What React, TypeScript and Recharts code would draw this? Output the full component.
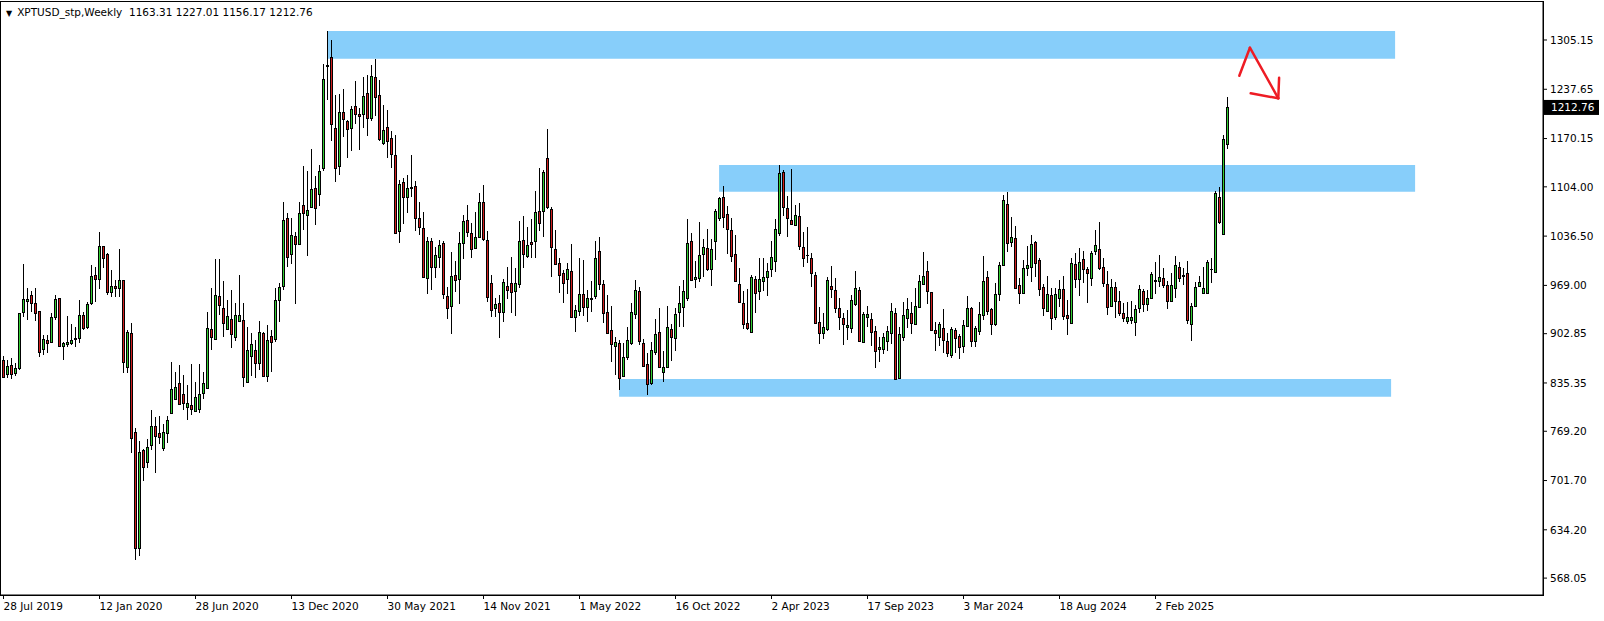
import React from 'react'
import { ComposedChart, Bar, XAxis, YAxis, ReferenceArea, ReferenceLine } from 'recharts'

const symbol = 'XPTUSD_stp,Weekly'

// weekly bars, oldest first (28 Jul 2019 .. 8 Jun 2025)
const opens = [
  866.8, 847.6, 859.5, 848.6, 855.4, 933.0, 948.1, 955.4, 944.4, 934.0,
  881.4, 894.2, 891.9, 925.3, 951.3, 886.5, 889.2, 890.6, 895.1, 896.5,
  928.5, 912.5, 945.4, 983.3, 977.3, 1023.0, 1011.6, 960.4, 968.2, 965.0,
  976.4, 857.7, 903.3, 768.6, 609.7, 743.5, 727.5, 750.4, 776.4, 766.8,
  746.7, 767.3, 794.7, 813.8, 834.8, 819.8, 802.9, 805.2, 797.4, 800.1,
  821.1, 828.0, 909.3, 895.1, 954.5, 937.6, 908.8, 923.0, 897.9, 920.2,
  921.6, 837.1, 872.8, 880.5, 863.2, 903.3, 845.3, 900.1, 895.6, 948.5,
  968.2, 1060.9, 1011.6, 1036.7, 1025.7, 1079.1, 1065.4, 1076.8, 1102.0, 1093.7,
  1130.3, 1270.0, 1281.4, 1184.2, 1133.0, 1206.1, 1194.2, 1184.2, 1214.7, 1203.3,
  1203.3, 1232.1, 1198.8, 1254.0, 1229.8, 1164.5, 1185.5, 1170.4, 1147.6, 1044.0,
  1110.2, 1090.5, 1102.4, 1105.2, 1060.9, 1047.2, 979.6, 1029.8, 994.6, 1008.4,
  1026.6, 954.5, 940.8, 983.3, 977.3, 1026.6, 1058.6, 1040.3, 1019.8, 1034.8,
  1083.7, 1031.2, 971.8, 937.6, 944.4, 932.1, 968.6, 971.8, 961.8, 970.5,
  1031.2, 1009.7, 1028.0, 1029.8, 1070.9, 1071.4, 1143.1, 1073.7, 1018.9, 999.2,
  985.6, 977.3, 988.7, 925.3, 933.5, 957.2, 939.9, 950.8, 955.0, 1016.1,
  970.5, 932.1, 907.4, 886.5, 889.7, 845.3, 871.4, 890.6, 929.4, 961.3,
  889.7, 860.9, 834.8, 877.3, 904.7, 850.8, 857.7, 908.8, 897.4, 933.0,
  939.0, 951.3, 1029.8, 978.2, 978.7, 1012.0, 1019.8, 991.0, 1030.3, 1060.9,
  1089.6, 1066.3, 1044.9, 1012.0, 970.5, 944.4, 917.0, 905.6, 977.3, 961.3,
  975.5, 980.0, 991.0, 1002.4, 1040.3, 1123.9, 1074.6, 1058.6, 1051.7, 1064.1,
  1021.1, 1011.1, 1006.1, 983.2, 918.4, 903.3, 909.3, 968.2, 962.7, 937.6,
  923.9, 911.5, 910.2, 943.1, 962.7, 891.9, 925.2, 922.5, 906.5, 881.4,
  881.4, 893.3, 903.3, 930.7, 841.7, 897.9, 923.9, 930.7, 915.6, 939.8,
  970.5, 988.7, 959.5, 907.9, 898.8, 910.2, 893.3, 873.7, 907.9, 899.7,
  886.0, 913.8, 938.5, 893.0, 907.0, 928.4, 980.0, 936.7, 915.7, 956.8,
  997.0, 1080.5, 1028.9, 1033.5, 969.1, 958.1, 993.3, 994.7, 1028.9, 1003.8,
  966.3, 933.9, 955.8, 925.2, 951.3, 964.1, 928.4, 917.0, 997.9, 977.3,
  1004.7, 991.0, 978.7, 1016.1, 1018.4, 993.7, 970.5, 940.8, 966.3, 948.1,
  931.6, 920.7, 922.0, 919.3, 938.5, 961.3, 943.5, 951.3, 975.0, 975.5,
  978.7, 969.5, 947.6, 965.9, 993.7, 982.8, 985.5, 915.7, 940.8, 968.2,
  958.1, 958.1, 991.0, 986.9, 1089.6, 1038.9, 1163.31,
]

const highs = [
  872.0, 866.8, 869.1, 862.3, 930.8, 998.3, 965.0, 961.8, 965.0, 934.0,
  901.1, 901.1, 930.8, 955.9, 951.3, 891.9, 927.1, 916.1, 912.5, 949.0,
  933.0, 946.7, 997.0, 994.7, 1041.7, 1023.0, 1012.9, 990.1, 976.4, 1018.9,
  976.4, 907.9, 917.0, 773.2, 755.8, 744.9, 758.6, 798.3, 789.2, 790.1,
  779.1, 790.1, 864.1, 850.8, 860.0, 846.2, 832.5, 860.9, 836.2, 861.3,
  850.8, 933.0, 965.9, 1004.7, 1004.7, 975.0, 949.0, 962.7, 944.4, 983.2,
  944.4, 912.5, 903.3, 894.2, 920.2, 905.6, 914.8, 907.9, 965.0, 971.8,
  1083.7, 1067.7, 1060.9, 1042.6, 1083.7, 1132.6, 1125.7, 1155.8, 1119.3, 1133.9,
  1272.3, 1317.5, 1305.2, 1229.8, 1230.7, 1237.6, 1195.6, 1214.7, 1249.0, 1212.5,
  1254.9, 1257.2, 1270.9, 1278.7, 1250.3, 1216.1, 1209.3, 1180.5, 1175.0, 1113.4,
  1115.7, 1120.2, 1147.6, 1112.0, 1082.8, 1069.1, 1034.8, 1033.5, 1022.0, 1031.2,
  1030.3, 966.4, 1015.2, 1002.9, 1042.6, 1065.4, 1079.1, 1054.0, 1069.1, 1095.1,
  1106.5, 1043.5, 983.3, 951.3, 955.9, 977.8, 994.7, 1008.4, 992.4, 1057.2,
  1064.1, 1049.5, 1060.0, 1098.8, 1129.4, 1127.1, 1183.2, 1075.9, 1044.9, 1006.1,
  990.1, 1000.1, 1025.7, 942.2, 1006.1, 1003.8, 962.7, 975.0, 1029.8, 1035.8,
  976.4, 955.9, 940.8, 898.8, 894.2, 889.7, 912.5, 944.4, 976.4, 967.3,
  895.6, 875.9, 891.0, 922.9, 937.6, 879.1, 940.8, 916.1, 937.6, 968.2,
  976.4, 1060.0, 1040.3, 1002.4, 1056.3, 1032.5, 1046.3, 1032.1, 1073.7, 1090.5,
  1105.1, 1077.8, 1060.9, 1038.0, 993.3, 961.3, 963.6, 983.2, 981.9, 1006.1,
  1006.1, 999.2, 1029.8, 1060.0, 1133.9, 1127.1, 1091.5, 1128.4, 1079.1, 1082.3,
  1042.6, 1048.5, 1012.9, 986.9, 939.9, 930.7, 981.0, 995.6, 978.7, 951.3,
  931.6, 935.3, 955.8, 988.7, 967.3, 933.0, 940.8, 930.7, 913.4, 898.8,
  904.2, 913.4, 945.3, 937.6, 911.5, 945.8, 951.3, 946.7, 965.0, 983.2,
  1014.7, 1002.9, 960.4, 919.3, 919.3, 936.2, 903.3, 912.5, 911.1, 902.4,
  921.6, 954.5, 939.9, 913.4, 945.8, 1009.3, 989.2, 938.5, 971.8, 1001.5,
  1092.8, 1097.4, 1063.1, 1050.4, 978.7, 1003.8, 1023.4, 1038.0, 1029.8, 1006.1,
  970.9, 981.9, 965.0, 965.0, 976.4, 981.9, 949.0, 1006.1, 1013.8, 1019.8,
  1016.6, 994.7, 1016.6, 1044.9, 1056.3, 1006.1, 988.7, 977.8, 974.1, 961.3,
  944.4, 945.8, 947.6, 942.2, 969.5, 964.1, 962.7, 986.9, 1001.5, 1010.6,
  992.4, 975.0, 985.5, 1009.7, 1001.5, 993.3, 1002.4, 944.4, 974.1, 981.9,
  994.7, 1003.8, 1007.0, 1098.3, 1104.2, 1175.0, 1227.01,
]

const lows = [
  841.7, 841.7, 840.3, 844.0, 852.2, 926.2, 921.6, 933.0, 919.3, 871.4,
  873.7, 876.0, 889.7, 921.6, 886.0, 866.8, 885.1, 887.4, 885.1, 889.7,
  907.9, 910.2, 942.2, 946.7, 964.1, 992.4, 955.9, 953.6, 953.6, 953.6,
  848.6, 848.5, 739.0, 593.0, 598.0, 701.0, 719.3, 743.5, 712.5, 751.7,
  742.1, 753.6, 793.7, 812.0, 806.1, 798.3, 784.6, 791.5, 796.0, 793.7,
  814.3, 827.1, 881.4, 894.2, 928.4, 897.9, 907.9, 883.7, 891.9, 919.3,
  829.3, 836.2, 844.0, 842.6, 853.1, 844.0, 837.1, 850.8, 891.0, 918.0,
  962.7, 993.3, 998.3, 944.4, 1024.3, 1044.9, 1009.7, 1075.9, 1051.7, 1077.8,
  1125.7, 1223.0, 1166.8, 1110.2, 1119.3, 1171.4, 1144.0, 1153.5, 1190.1, 1155.4,
  1185.1, 1174.1, 1194.6, 1201.0, 1167.3, 1161.3, 1143.1, 1129.4, 1039.4, 1026.6,
  1052.6, 1067.7, 1090.5, 1044.0, 1038.0, 980.0, 956.8, 961.8, 979.6, 992.4,
  951.3, 922.5, 903.3, 960.4, 944.4, 1004.7, 1034.8, 1006.1, 1018.4, 1033.5,
  1030.3, 946.7, 925.3, 925.3, 896.5, 918.4, 951.3, 932.1, 926.2, 965.0,
  993.3, 1007.0, 1007.0, 1007.0, 1042.6, 1034.8, 1073.2, 980.0, 997.0, 958.2,
  944.4, 957.2, 924.8, 904.7, 926.2, 927.6, 919.3, 933.0, 949.9, 962.7,
  917.0, 902.4, 864.5, 846.2, 825.7, 844.4, 866.8, 887.4, 922.5, 887.4,
  857.7, 818.9, 831.6, 873.7, 856.8, 836.2, 855.4, 865.9, 879.1, 911.5,
  912.5, 948.1, 975.5, 965.0, 974.1, 981.0, 989.2, 967.3, 1003.8, 1057.7,
  1048.1, 1012.0, 1000.1, 974.1, 945.3, 908.8, 907.9, 904.2, 930.7, 948.1,
  960.4, 953.6, 980.0, 987.8, 1037.1, 1064.5, 1035.8, 1051.7, 1050.4, 1017.5,
  994.7, 999.2, 966.3, 916.1, 889.7, 895.6, 907.0, 951.3, 930.7, 907.0,
  887.4, 894.2, 904.2, 940.8, 891.9, 891.5, 912.5, 885.1, 855.4, 864.5,
  875.0, 879.6, 889.6, 839.4, 840.8, 891.9, 910.2, 902.4, 913.8, 938.9,
  969.5, 944.4, 907.0, 879.1, 886.0, 876.0, 870.5, 870.5, 876.9, 867.7,
  876.0, 912.5, 885.0, 885.0, 901.0, 921.6, 928.4, 901.0, 913.4, 948.1,
  996.0, 1015.2, 1022.1, 963.6, 943.5, 956.8, 981.9, 974.1, 981.0, 954.5,
  927.1, 933.0, 907.0, 920.7, 939.9, 921.6, 901.0, 916.1, 965.9, 954.5,
  973.2, 945.8, 968.6, 1010.6, 991.0, 965.9, 928.4, 939.0, 924.8, 927.5,
  917.9, 915.7, 916.1, 900.1, 930.7, 932.1, 934.4, 950.4, 958.1, 967.3,
  965.0, 936.7, 946.7, 952.2, 974.1, 969.5, 915.7, 891.9, 939.9, 967.3,
  957.2, 957.2, 973.2, 986.0, 1054.0, 1038.0, 1156.17,
]

const closes = [
  844.0, 858.6, 847.6, 855.4, 930.8, 949.9, 950.4, 945.4, 930.8, 878.2,
  895.6, 889.7, 925.3, 949.9, 886.5, 889.7, 891.5, 894.2, 897.4, 928.5,
  910.2, 943.1, 981.9, 977.8, 1023.0, 1006.1, 960.4, 968.2, 965.0, 976.4,
  864.5, 905.6, 760.4, 609.7, 741.2, 720.7, 748.1, 776.4, 763.1, 761.8,
  767.7, 784.1, 826.6, 829.3, 807.0, 808.3, 807.4, 800.1, 816.1, 819.8,
  834.8, 910.2, 898.8, 955.8, 942.1, 917.0, 927.1, 902.4, 928.0, 928.0,
  844.0, 880.5, 888.3, 863.2, 905.1, 845.3, 894.2, 891.0, 949.0, 966.3,
  1058.6, 1008.4, 1038.0, 1025.7, 1067.7, 1067.7, 1072.3, 1101.1, 1075.5, 1125.7,
  1251.3, 1270.9, 1189.6, 1130.3, 1206.1, 1196.5, 1182.8, 1210.2, 1203.3, 1201.5,
  1228.4, 1198.8, 1255.8, 1227.5, 1169.5, 1181.9, 1167.3, 1148.5, 1040.3, 1107.4,
  1089.6, 1102.0, 1103.3, 1060.9, 1048.5, 980.9, 1029.8, 994.6, 1010.6, 1024.3,
  956.8, 938.5, 981.9, 976.4, 1027.5, 1057.2, 1042.2, 1018.4, 1035.8, 1083.7,
  1032.1, 952.6, 935.3, 943.1, 933.0, 973.2, 962.7, 959.5, 971.8, 1029.8,
  1011.6, 1023.9, 1026.2, 1069.1, 1054.0, 1123.9, 1075.9, 1022.1, 997.9, 983.3,
  971.8, 991.0, 926.2, 935.3, 957.2, 939.0, 952.2, 951.7, 1006.1, 970.5,
  930.7, 904.2, 888.3, 891.0, 842.6, 871.4, 893.7, 932.1, 962.7, 893.3,
  859.0, 833.5, 880.5, 901.9, 857.7, 856.8, 911.5, 897.9, 929.8, 944.4,
  961.3, 1026.6, 976.4, 980.5, 1010.2, 1022.1, 991.0, 1018.4, 1070.9, 1088.3,
  1063.1, 1045.8, 1009.7, 975.0, 946.7, 915.7, 910.2, 980.0, 959.0, 977.3,
  981.0, 989.2, 1007.4, 1045.8, 1122.5, 1075.9, 1060.9, 1053.1, 1065.4, 1023.4,
  1006.1, 1010.2, 985.5, 917.0, 904.2, 911.5, 976.4, 963.6, 937.6, 925.3,
  916.1, 914.7, 949.0, 965.0, 893.3, 929.8, 929.8, 905.6, 879.6, 884.6,
  897.9, 906.5, 933.9, 840.3, 902.0, 928.4, 936.2, 917.0, 940.8, 975.0,
  981.9, 961.8, 907.9, 903.3, 916.1, 894.2, 876.0, 908.8, 897.4, 885.1,
  914.7, 937.6, 893.0, 910.2, 929.8, 975.0, 934.4, 915.7, 956.8, 997.0,
  1086.0, 1026.6, 1035.8, 965.9, 959.0, 992.4, 997.0, 1025.2, 1000.1, 963.6,
  937.6, 956.8, 923.9, 956.8, 964.1, 927.5, 923.9, 999.2, 977.3, 1000.6,
  991.0, 985.5, 1012.9, 1023.9, 993.3, 971.8, 939.0, 966.3, 948.1, 931.6,
  923.9, 925.2, 925.2, 936.2, 963.6, 943.5, 951.3, 984.2, 975.9, 980.0,
  969.5, 947.6, 969.5, 996.9, 978.7, 981.9, 921.6, 940.8, 966.3, 973.2,
  965.0, 1000.6, 991.9, 1095.1, 1056.3, 1169.1, 1212.76,
]

const dateLabels = [
  '28 Jul 2019', '12 Jan 2020', '28 Jun 2020', '13 Dec 2020', '30 May 2021',
  '14 Nov 2021', '1 May 2022', '16 Oct 2022', '2 Apr 2023', '17 Sep 2023',
  '3 Mar 2024', '18 Aug 2024', '2 Feb 2025',
]
const dateTickBars = [0, 24, 48, 72, 96, 120, 144, 168, 192, 216, 240, 264, 288]

const priceTicks = [
  568.05, 634.2, 701.7, 769.2, 835.35, 902.85, 969.0, 1036.5, 1104.0, 1170.15, 1237.65, 1305.15,
]

// supply / demand zones: bar index span and price span
const zoneBars = [[80.95, 347.9], [178.9, 352.9], [153.9, 346.9]]
const zonePrices = [[1279.5, 1317.5], [1097.3, 1133.9], [816.5, 840.8]]

// hand drawn arrow, in (bar index, price)
const arrowStrokes = [
  [[308.95, 1256.2], [311.6, 1294.6]],
  [[311.6, 1294.6], [318.7, 1225.3]],
  [[311.8, 1232.1], [318.7, 1225.3]],
  [[318.9, 1253.5], [318.7, 1225.3]],
]

const candles = opens.map((o, i) => ({ i, o, h: highs[i], l: lows[i], c: closes[i] }))
const last = candles[candles.length - 1]

const UP = '#32cd32'
const DOWN = '#d01e1e'
const ZONE = '#87cefa'
const FONT = '"DejaVu Sans", Verdana, sans-serif'

function Candle(props: any) {
  const { x, y, width, height } = props
  const p = props.payload || props
  const { o, h, l, c } = p
  if (x == null || y == null) return null
  const cx = Math.floor(x + width / 2) + 0.5
  const span = h - l || 1
  const py = (v: number) => y + ((h - v) / span) * height
  const top = Math.round(py(Math.max(o, c)))
  const bot = Math.round(py(Math.min(o, c)))
  const bh = bot - top
  return (
    <g>
      <rect x={cx - 0.5} y={Math.round(y)} width={1} height={Math.max(1, Math.round(height))} fill="#000" />
      <rect x={cx - 1.5} y={top} width={3} height={bh + 1} fill="#000" />
      {bh >= 2 && <rect x={cx - 0.5} y={top + 1} width={1} height={bh - 1} fill={c >= o ? UP : DOWN} />}
    </g>
  )
}

function PriceTag(props: any) {
  const vb = props.viewBox || {}
  const right = vb.x + vb.width
  return (
    <g>
      <rect x={right + 1} y={vb.y - 7.5} width={55} height={15} fill="#000" />
      <text x={right + 8} y={vb.y} dy="0.36em" fill="#fff" fontSize={10.5} fontFamily={FONT}>
        {last.c.toFixed(2)}
      </text>
    </g>
  )
}

export default function App() {
  return (
    <div style={{ position: 'absolute', left: 0, top: 0, width: 1604, height: 621, background: '#fff', overflow: 'hidden' }}>
      <ComposedChart width={1604} height={621} data={candles} margin={{ top: 2, right: 0, bottom: 0, left: 1 }}>
        <XAxis
          dataKey="i"
          type="number"
          domain={[-0.625, 384.875]}
          allowDataOverflow
          ticks={dateTickBars}
          interval={0}
          height={26}
          tickFormatter={(v: number) => dateLabels[dateTickBars.indexOf(v)] ?? ''}
          tick={{ fontSize: 10.5, fill: '#000', fontFamily: FONT, textAnchor: 'start' }}
          tickLine={{ stroke: '#000' }}
          axisLine={{ stroke: '#000' }}
          tickSize={4}
          tickMargin={4}
        />
        <YAxis
          orientation="right"
          type="number"
          domain={[544.9, 1357.2]}
          allowDataOverflow
          ticks={priceTicks}
          interval={0}
          width={61}
          tickFormatter={(v: number) => v.toFixed(2)}
          tick={{ fontSize: 10.5, fill: '#000', fontFamily: FONT }}
          tickLine={{ stroke: '#000' }}
          axisLine={{ stroke: '#000' }}
          tickSize={4}
          tickMargin={3}
        />
        {zoneBars.map((b, k) => (
          <ReferenceArea
            key={k}
            x1={b[0]}
            x2={b[1]}
            y1={zonePrices[k][0]}
            y2={zonePrices[k][1]}
            fill={ZONE}
            fillOpacity={1}
            stroke="none"
          />
        ))}
        <Bar
          dataKey={(d: any) => [d.l, d.h]}
          barSize={3}
          shape={(p: any) => <Candle {...p} />}
          isAnimationActive={false}
        />
        {arrowStrokes.map((s, k) => (
          <ReferenceLine
            key={'a' + k}
            segment={[{ x: s[0][0], y: s[0][1] }, { x: s[1][0], y: s[1][1] }]}
            stroke="#ee1c24"
            strokeWidth={2.5}
            strokeLinecap="round"
            ifOverflow="visible"
          />
        ))}
        <ReferenceLine y={last.c} stroke="none" strokeOpacity={0} label={<PriceTag />} />
      </ComposedChart>
      <div
        style={{
          position: 'absolute', left: 0, top: 1, width: 1544, height: 595, boxSizing: 'border-box',
          border: '1px solid #000', pointerEvents: 'none',
        }}
      />
      <div
        style={{
          position: 'absolute', left: 6, top: 5, fontFamily: FONT, fontSize: 10.5, color: '#000',
          whiteSpace: 'pre', lineHeight: '14px',
        }}
      >
        <span style={{ fontSize: 8, marginRight: 5 }}>▼</span>
        {symbol}  {last.o.toFixed(2)} {last.h.toFixed(2)} {last.l.toFixed(2)} {last.c.toFixed(2)}
      </div>
    </div>
  )
}
